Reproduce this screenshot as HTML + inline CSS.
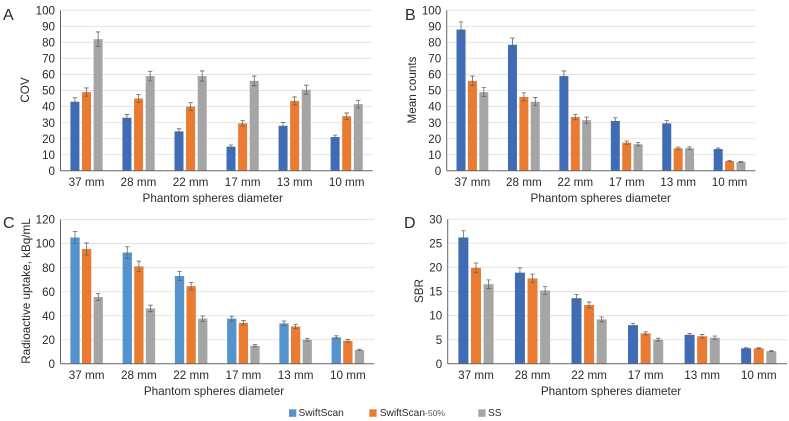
<!DOCTYPE html>
<html lang="en">
<head>
<meta charset="utf-8">
<title>Phantom spheres charts</title>
<style>
html,body{margin:0;padding:0;background:#fff;width:789px;height:421px;overflow:hidden}
svg{display:block;filter:blur(.35px)}
text{font-family:"Liberation Sans",Arial,sans-serif;fill:#2b2b2b}
</style>
</head>
<body>
<svg id="chart" xmlns="http://www.w3.org/2000/svg" width="789" height="421" viewBox="0 0 789 421">
<rect width="789" height="421" fill="#fff"/>
<g>
<g>
<rect x="289" y="409.3" width="7.3" height="7.5" fill="#5593cc"/>
<text x="298.5" y="416" font-size="10.2">SwiftScan</text>
</g>
<g>
<rect x="369.3" y="409.3" width="7.3" height="7.5" fill="#e97b32"/>
<text x="379.7" y="416" font-size="10.2">SwiftScan<tspan font-size="8.6" fill="#555">-50%</tspan></text>
</g>
<g>
<rect x="478.3" y="409.3" width="7.3" height="7.5" fill="#a5a5a5"/>
<text x="488" y="416" font-size="10.2">SS</text>
</g>
</g>
</svg>
<script>
const categories = ['37 mm','28 mm','22 mm','17 mm','13 mm','10 mm'];
const seriesNames = ['SwiftScan','SwiftScan-50%','SS'];

const covSwift = [43,33,24.5,15,28,21];
const covHalf  = [49,45,40,29.5,43.5,34];
const covSS    = [82,59,59,56,50.5,41.5];
const covSwiftErr = [2.5,2,1.6,1,2,1.2];
const covHalfErr  = [2.6,2.5,2.4,1.7,2.5,2];
const covSSErr    = [4.5,3,3.2,3,2.8,2.4];
const covTicks = [0,10,20,30,40,50,60,70,80,90,100];

const countSwift = [88,78.5,59,31,29.5,13.5];
const countHalf  = [56,46,33.5,17.5,14,6];
const countSS    = [49,43,31.5,16.5,14,5.5];
const countSwiftErr = [4.8,4.2,3.2,2,1.7,0.6];
const countHalfErr  = [3,2.5,1.7,1,0.7,0.3];
const countSSErr    = [2.8,2.6,1.9,1,0.8,0.3];
const countTicks = [0,10,20,30,40,50,60,70,80,90,100];

const uptakeSwift = [105,92.5,73,37.5,33.5,22];
const uptakeHalf  = [95.5,81,64.5,34,31,19];
const uptakeSS    = [55.5,46,37.5,15,20,11.5];
const uptakeSwiftErr = [5,4.8,3.8,2,2,1.2];
const uptakeHalfErr  = [5,4.3,3.2,2,1.8,1.2];
const uptakeSSErr    = [3,2.7,2.2,1,1.2,0.6];
const uptakeTicks = [0,20,40,60,80,100,120];

const sbrSwift = [26.2,18.9,13.6,8,6,3.2];
const sbrHalf  = [19.9,17.7,12.2,6.3,5.7,3.2];
const sbrSS    = [16.5,15.2,9.2,5,5.4,2.6];
const sbrSwiftErr = [1.4,1,0.8,0.4,0.3,0.1];
const sbrHalfErr  = [1,0.9,0.6,0.3,0.35,0.1];
const sbrSSErr    = [0.9,0.8,0.5,0.3,0.35,0.1];
const sbrTicks = [0,5,10,15,20,25,30];

const svg = document.getElementById('chart');
const NS = 'http://www.w3.org/2000/svg';

function make(tag, attrs, parent, text) {
  const el = document.createElementNS(NS, tag);
  for (const k in attrs) el.setAttribute(k, attrs[k]);
  if (text !== undefined) el.textContent = text;
  parent.appendChild(el);
  return el;
}

function drawPanel(p) {
  const g = make('g', {}, svg);
  
  

  const maxV = p.ticks[p.ticks.length - 1];
  const y = v => p.bottom - (v / maxV) * (p.bottom - p.top);
  const catW = (p.right - p.left) / categories.length;
  const x = i => p.left + catW * (i + 0.5);

  const letter = make('text', {x: p.letterX, y: p.letterY, 'font-size': 16}, g, p.letter);
  
  

  p.ticks.forEach(t => {
    if (t > 0) {
      const grid = make('line', {x1: p.left, x2: p.right, y1: y(t), y2: y(t), stroke: '#e4e4e4', 'stroke-width': 1}, g);
      
      
    }
    const tick = make('text', {x: p.left - 5.5, y: y(t) + 4.2, 'font-size': 11.6, 'text-anchor': 'end'}, g, String(t));
    
    
  });

  p.series.forEach((vals, s) => {
    vals.forEach((v, i) => {
      const cx = x(i) + (s - 1) * p.step;
      const bar = make('rect', {x: cx - p.barW / 2, y: y(v), width: p.barW, height: p.bottom - y(v), fill: p.colors[s]}, g);
      
      
    });
  });

  p.series.forEach((vals, s) => {
    vals.forEach((v, i) => {
      const cx = x(i) + (s - 1) * p.step;
      const e = p.errs[s][i];
      const err = make('path', {
        d: 'M' + cx + ' ' + y(v + e) + 'V' + y(v - e) +
           'M' + (cx - 2.2) + ' ' + y(v + e) + 'H' + (cx + 2.2) +
           'M' + (cx - 2.2) + ' ' + y(v - e) + 'H' + (cx + 2.2),
        stroke: '#666', 'stroke-width': 0.8, fill: 'none'
      }, g);
      
      
    });
  });

  const yAxis = make('line', {x1: p.left, x2: p.left, y1: p.top, y2: p.bottom, stroke: '#666', 'stroke-width': 1}, g);
  
  
  const xAxis = make('line', {x1: p.left, x2: p.right, y1: p.bottom, y2: p.bottom, stroke: '#666', 'stroke-width': 1}, g);
  
  

  categories.forEach((c, i) => {
    const lab = make('text', {x: x(i), y: p.bottom + 15.3, 'font-size': 11.7, 'text-anchor': 'middle'}, g, c);
    
    
  });

  const xt = make('text', {x: p.xTitleX, y: p.bottom + 31.3, 'font-size': 11.7, 'text-anchor': 'middle'}, g, 'Phantom spheres diameter');
  
  

  const ty = p.titleY;
  const yt = make('text', {x: p.titleX, y: ty, 'font-size': 11.7, 'text-anchor': 'middle', transform: 'rotate(-90 ' + p.titleX + ' ' + ty + ')'}, g, p.title);
  
  
}

const darkColors = ['#3f6cb5','#e97b32','#a5a5a5'];
const lightColors = ['#5593cc','#e97b32','#a5a5a5'];

drawPanel({letter:'A', letterX:3, letterY:20, title:'COV', titleX:29, titleY:90, xTitleX:212.7,
  left:60.5, right:372.7, top:10.3, bottom:170.7, barW:9, step:11.6, ticks:covTicks, colors:darkColors,
  series:[covSwift,covHalf,covSS], errs:[covSwiftErr,covHalfErr,covSSErr]});
drawPanel({letter:'B', letterX:405, letterY:20, title:'Mean counts', titleX:416, titleY:90, xTitleX:600.7,
  left:446.7, right:755.3, top:10.3, bottom:170.7, barW:9, step:11.4, ticks:countTicks, colors:darkColors,
  series:[countSwift,countHalf,countSS], errs:[countSwiftErr,countHalfErr,countSSErr]});
drawPanel({letter:'C', letterX:3, letterY:228, title:'Radioactive uptake, kBq/mL', titleX:30, titleY:291, xTitleX:214,
  left:60.5, right:374, top:219.5, bottom:363.7, barW:9.3, step:11.6, ticks:uptakeTicks, colors:lightColors,
  series:[uptakeSwift,uptakeHalf,uptakeSS], errs:[uptakeSwiftErr,uptakeHalfErr,uptakeSSErr]});
drawPanel({letter:'D', letterX:404, letterY:228, title:'SBR', titleX:423, titleY:291, xTitleX:611,
  left:447.7, right:787, top:219.2, bottom:363.7, barW:10, step:12.6, ticks:sbrTicks, colors:darkColors,
  series:[sbrSwift,sbrHalf,sbrSS], errs:[sbrSwiftErr,sbrHalfErr,sbrSSErr]});
</script>
</body>
</html>
